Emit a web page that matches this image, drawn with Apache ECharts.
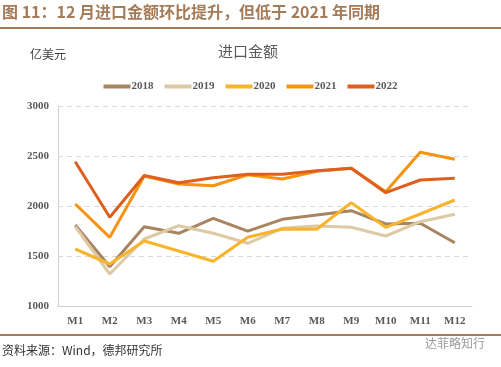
<!DOCTYPE html>
<html><head><meta charset="utf-8">
<script src="https://cdn.jsdelivr.net/npm/echarts@6/dist/echarts.min.js"></script>
<style>html,body{margin:0;padding:0;background:#fff;}#c{width:501px;height:367px;}</style>
</head><body><div id="c"></div>
<script>
var categories = ['M1','M2','M3','M4','M5','M6','M7','M8','M9','M10','M11','M12'];
var s2018 = [1810,1393,1793,1727,1877,1748,1867,1910,1953,1820,1827,1633];
var s2019 = [1795,1320,1670,1803,1727,1627,1777,1800,1787,1700,1843,1917];
var s2020 = [1570,1420,1650,1550,1447,1687,1770,1767,2033,1787,1920,2060];
var s2021 = [2020,1687,2300,2220,2203,2312,2270,2347,2377,2143,2537,2467];
var s2022 = [2443,1887,2305,2233,2283,2317,2317,2353,2377,2133,2260,2277];
var seriesNames = ['2018','2019','2020','2021','2022'];
var seriesColors = ['#A98461','#DDC9A3','#F8B42C','#F7940F','#DE5F1F'];
var yTicks = [1000,1500,2000,2500,3000];

var chart = echarts.init(document.getElementById('c'));
var data = [s2018,s2019,s2020,s2021,s2022];
var serif = '"Liberation Serif", "Noto Sans CJK SC", serif';
chart.setOption({
  animation: false,
  backgroundColor: '#fff',
  graphic: [
    {type:'text', left: 2, top: 4, style:{text:'图 11：12 月进口金额环比提升，但低于 2021 年同期', fill:'#A57B58', font:'bold 16px "Noto Sans CJK SC", "Liberation Sans", sans-serif'}},
    {type:'rect', shape:{x:0,y:27,width:501,height:2}, style:{fill:'#A57B58'}},
    {type:'text', left: 218, top: 44, style:{text:'进口金额', fill:'#595959', font:'15px "Noto Sans CJK SC", serif'}},
    {type:'text', left: 30, top: 48, style:{text:'亿美元', fill:'#404040', font:'12px "Noto Sans CJK SC", serif'}},
    {type:'rect', shape:{x:0,y:334,width:501,height:2}, style:{fill:'#A57B58'}},
    {type:'text', left: 2, top: 344, style:{text:'资料来源：Wind，德邦研究所', fill:'#333', font:'12px "Noto Sans CJK SC", "Liberation Sans", sans-serif'}},
    {type:'text', left: 425, top: 337, style:{text:'达菲略知行', fill:'#9a9a9a', font:'12px "Noto Sans CJK SC", sans-serif'}}
  ],
  legend: {
    top: 76, left: 'center',
    itemWidth: 27, itemHeight: 4, itemGap: 11,
    icon: 'rect',
    textStyle: {color:'#595959', fontFamily: serif, fontWeight:'bold', fontSize: 11, padding:[0,0,0,-4]},
    data: seriesNames
  },
  grid: {left: 58, right: 29, top: 106, bottom: 61},
  xAxis: {
    type: 'category', data: categories, boundaryGap: true,
    axisLine: {lineStyle:{color:'#d0d0d0', width:1}},
    axisTick: {show:false},
    axisLabel: {color:'#595959', fontFamily: serif, fontWeight:'bold', fontSize: 11, margin: 10}
  },
  yAxis: {
    type: 'value', min: yTicks[0], max: yTicks[yTicks.length-1], interval: 500,
    axisLine: {show:true, lineStyle:{color:'#d0d0d0', width:1}},
    axisTick: {show:false},
    axisLabel: {color:'#595959', fontFamily: serif, fontWeight:'bold', fontSize: 11, margin: 9,
      formatter: function(v){ return String(v); }},
    splitLine: {lineStyle:{color:'#d9d9d9', type:[5,4], width:1}}
  },
  series: seriesNames.map(function(n,i){
    return {name:n, type:'line', data:data[i], symbol:'none', color:seriesColors[i],
      lineStyle:{width:3, color:seriesColors[i]}};
  })
});
</script></body></html>
